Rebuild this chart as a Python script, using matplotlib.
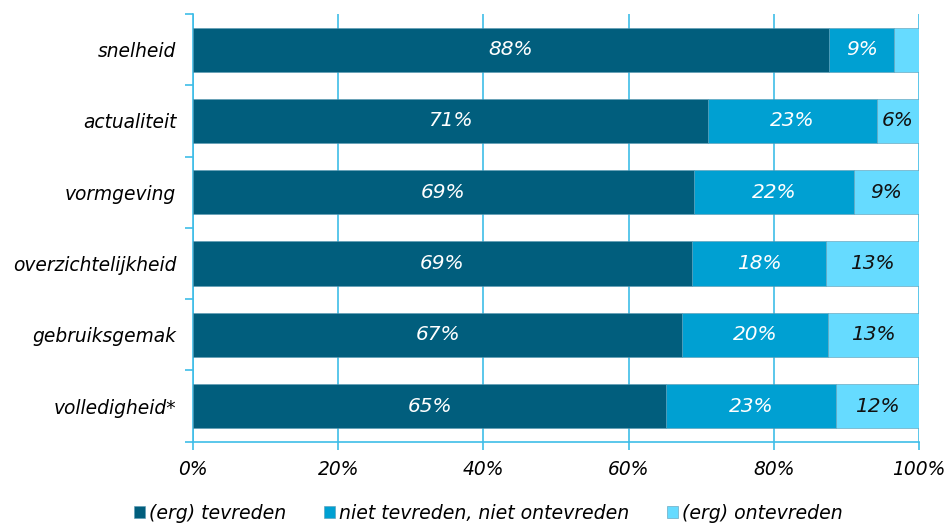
import matplotlib.pyplot as plt
import numpy as np

# tevredenheid per aspect (in %)
categories = ["snelheid", "actualiteit", "vormgeving", "overzichtelijkheid",
              "gebruiksgemak", "volledigheid*"]
tevreden = [87.6, 70.9, 69.0, 68.7, 67.4, 65.2]
neutraal = [9.0, 23.3, 22.0, 18.5, 20.0, 23.3]
ontevreden = [3.4, 5.8, 9.0, 12.8, 12.6, 11.5]
series_names = ["(erg) tevreden", "niet tevreden, niet ontevreden", "(erg) ontevreden"]
colors = ["#015e7d", "#00a0d2", "#66dbff"]
text_colors = ["white", "white", "#111111"]
xticks = [0, 20, 40, 60, 80, 100]

plt.rcParams['font.family'] = ['DejaVu Sans']
plt.rcParams['font.style'] = 'italic'

fig = plt.figure(figsize=(9.5, 5.24), dpi=100)
ax = fig.add_axes([0.2032, 0.157, 0.7642, 0.8163])

line_col = "#3ebde8"
y = np.arange(len(categories))
left = np.zeros(len(categories))
for vals, name, col, tcol in zip([tevreden, neutraal, ontevreden], series_names, colors, text_colors):
    vals = np.array(vals)
    ax.barh(y, vals, left=left, height=0.62, color=col, label=name,
            edgecolor="#5a9ab3", linewidth=0.4, zorder=3)
    for yi, l, v in zip(y, left, vals):
        if v >= 5:
            ax.text(l + v / 2, yi, f"{v:.0f}%", ha="center", va="center",
                    color=tcol, fontsize=14.5, style="italic", zorder=4)
    left += vals

ax.set_xlim(0, 100)
ax.set_ylim(len(categories) - 0.5, -0.5)
ax.set_yticks(y)
ax.set_yticklabels(categories, fontsize=13.4, style="italic")
ax.set_xticks(xticks)
ax.set_xticklabels([f"{t}%" for t in xticks], fontsize=13.4, style="italic")

# tickmarks tussen de categorieen
ax.set_yticks(np.arange(-0.5, len(categories)), minor=True)
ax.tick_params(axis="y", which="major", length=0, pad=12)
ax.tick_params(axis="y", which="minor", length=6, color=line_col, width=1.2)
ax.tick_params(axis="x", length=6, color=line_col, width=1.2, pad=7)

ax.grid(axis="x", color=line_col, linewidth=1.2, zorder=0)
for s in ["top", "right"]:
    ax.spines[s].set_visible(False)
for s in ["left", "bottom"]:
    ax.spines[s].set_color(line_col)
    ax.spines[s].set_linewidth(1.2)

fig.legend(loc="lower center", bbox_to_anchor=(0.514, -0.03), ncol=3, frameon=False,
           handlelength=0.6, handleheight=0.6, handletextpad=0.2,
           columnspacing=2.0, prop={"style": "italic", "size": 13.6})

fig.savefig("out.png", dpi=100)
